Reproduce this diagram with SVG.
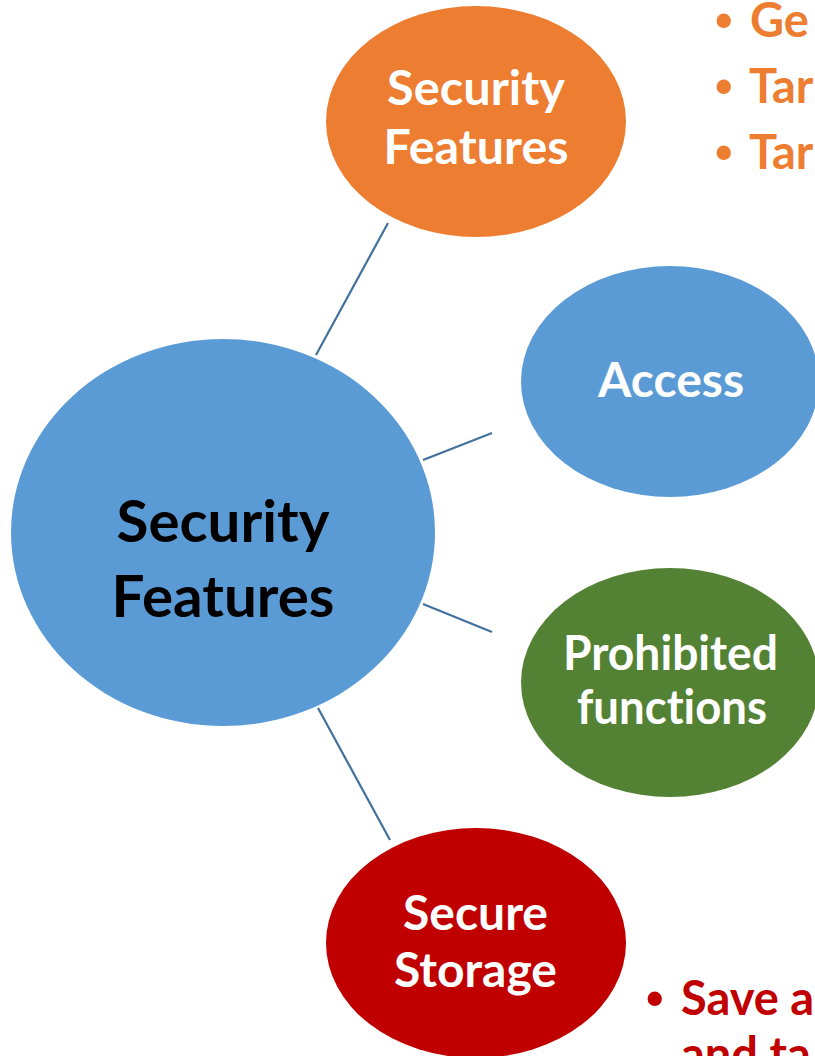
<svg xmlns="http://www.w3.org/2000/svg" width="815" height="1056" viewBox="0 0 815 1056">
  <style>
    text { font-variant-ligatures: none; }
    .lbl { font-family: Lato, "Open Sans", "Liberation Sans", sans-serif; font-weight: 700; fill: #ffffff; text-anchor: middle; }
    .main { font-family: Lato, "Open Sans", "Liberation Sans", sans-serif; font-weight: 700; fill: #000000; text-anchor: middle; font-size: 57px; }
    .node { font-size: 47px; }
    .bul { font-family: Lato, "Open Sans", "Liberation Sans", sans-serif; font-weight: 700; font-size: 47px; }
    .dot { font-family: "Liberation Sans", Arial, sans-serif; font-weight: 700; font-size: 50px; }
    .orange { fill: #ED7D31; }
    .red { fill: #C00000; }
    .conn line { stroke: #41719C; stroke-width: 2.2; }
  </style>
  <rect width="815" height="1056" fill="#ffffff"/>

  <g id="connectors" class="conn">
    <line x1="388" y1="223" x2="316" y2="355"/>
    <line x1="423" y1="460" x2="492" y2="433"/>
    <line x1="423" y1="604" x2="492" y2="632"/>
    <line x1="318" y1="708" x2="390" y2="840"/>
  </g>

  <g id="node-center">
    <ellipse cx="223" cy="532.5" rx="212" ry="193.5" fill="#5B9BD5"/>
    <text class="main" x="223" y="542" textLength="213" lengthAdjust="spacingAndGlyphs">Security</text>
    <text class="main" x="223" y="617" textLength="223" lengthAdjust="spacingAndGlyphs">Features</text>
  </g>

  <g id="node-security-features">
    <ellipse cx="476" cy="121.5" rx="150" ry="115.5" fill="#ED7D31"/>
    <text class="lbl node" x="476" y="105" textLength="178" lengthAdjust="spacingAndGlyphs">Security</text>
    <text class="lbl node" x="476" y="164" textLength="185" lengthAdjust="spacingAndGlyphs">Features</text>
  </g>

  <g id="node-access">
    <ellipse cx="670" cy="381.5" rx="149" ry="115.5" fill="#5B9BD5"/>
    <text class="lbl node" x="671" y="397" textLength="146" lengthAdjust="spacingAndGlyphs">Access</text>
  </g>

  <g id="node-prohibited">
    <ellipse cx="670" cy="682.5" rx="149" ry="114.5" fill="#548235"/>
    <text class="lbl node" x="670.5" y="670" textLength="215" lengthAdjust="spacingAndGlyphs">Prohibited</text>
    <text class="lbl node" x="672" y="724" textLength="190" lengthAdjust="spacingAndGlyphs">functions</text>
  </g>

  <g id="node-secure-storage">
    <ellipse cx="476" cy="943" rx="150" ry="115" fill="#C00000"/>
    <text class="lbl node" x="475.5" y="930" textLength="145" lengthAdjust="spacingAndGlyphs">Secure</text>
    <text class="lbl node" x="475.5" y="987" textLength="163" lengthAdjust="spacingAndGlyphs">Storage</text>
  </g>

  <g id="bullets-top">
    <text class="dot orange" x="715" y="37">•</text>
    <text class="bul orange" x="750" y="37">Ge</text>
    <text class="dot orange" x="715" y="103">•</text>
    <text class="bul orange" x="749" y="103">Tar</text>
    <text class="dot orange" x="715" y="169">•</text>
    <text class="bul orange" x="749" y="169">Tar</text>
  </g>

  <g id="bullets-bottom">
    <text class="dot red" x="646" y="1015">•</text>
    <text class="bul red" x="681" y="1015">Save a</text>
    <text class="bul red" x="681" y="1071">and ta</text>
  </g>
</svg>
